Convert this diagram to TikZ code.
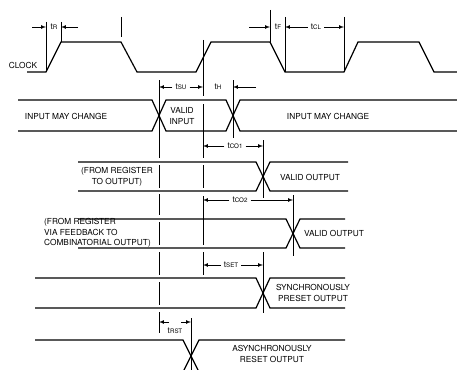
\documentclass[tikz,border=0pt]{standalone}
\usepackage{fontspec}
\setmainfont{TeX Gyre Heros}
\usetikzlibrary{arrows}
\usetikzlibrary{positioning}

\newcommand{\tsub}[1]{t{\fontsize{6.2}{7}\selectfont #1}}

\begin{document}
\begin{tikzpicture}[x=1pt,y=-1pt]
\tikzstyle{every node}=[font=\fontsize{8.3}{10.5}\selectfont,inner sep=1pt,align=center]
\tikzstyle{wave}=[line width=1.2pt]
\tikzstyle{tick}=[line width=1pt]
\tikzstyle{dim}=[-latex,line width=0.7pt]
\tikzstyle{lbl}=[inner sep=3pt]
\useasboundingbox (0,0) rectangle (457,369);

% clock
\draw[wave] (27,72) -- (46,72) -- (61,42) -- (121,42) -- (137,72) -- (196,72) -- (211,42)
  -- (270,42) -- (285,72) -- (344,72) -- (358,42) -- (419,42) -- (434,72) -- (457,72);
\node (clk) at (23,65) {CLOCK};

% input
\draw[wave] (18,100) -- (152,100) -- (166,131) -- (226,131) -- (240,100) -- (457,100);
\draw[wave] (18,131) -- (152,131) -- (166,100) -- (226,100) -- (240,131) -- (457,131);

% outputs
\foreach \s/\c/\e/\t/\b in {78/263/348/162/191, 78/293/345/219/248, 35/263/345/278/308}
  \draw[wave] (\s,\t) -- (\c-7,\t) -- (\c+7,\b) -- (\e,\b)
              (\s,\b) -- (\c-7,\b) -- (\c+7,\t) -- (\e,\t);
\draw[wave] (35,340) -- (183,340) -- (199,372) (345,340) -- (199,340) -- (183,372);

% reference lines
\coordinate (su) at (159,80);
\coordinate (ck) at (203,40);
\foreach \a/\b in {80/158, 165/188, 194/215, 222/245, 252/275, 282/305}
  \draw[tick] (su |- 0,\a) -- (su |- 0,\b);
\foreach \a/\b in {40/96, 104/158, 165/188, 196/245, 252/275}
  \draw[tick] (ck |- 0,\a) -- (ck |- 0,\b);

% clock times
\coordinate (r0) at (46,22);
\coordinate (r1) at (61,22);
\coordinate (f0) at (270,10);
\coordinate (f1) at (285,17);
\coordinate (cl) at (344,17);
\draw[tick] (r0) -- (46,72) (r1) -- (61,42) (121,17) -- (121,37)
  (f0) -- (270,42) (f1) -- (285,72) (cl) -- (344,72);
\node (tr) at (54,27) {\tsub{R}};
\draw[dim] (32,27) -- (r0 |- tr);
\draw[dim] (78,27) -- (r1 |- tr);
\node (tf) at (278,27) {\tsub{F}};
\draw[dim] (249,27) -- (f0 |- tf);
\node[lbl] (tcl) at (316,27) {\tsub{CL}};
\draw[dim] (tcl.west) -- (f1 |- tcl);
\draw[dim] (tcl.east) -- (cl |- tcl);

% setup, hold
\coordinate (h) at (233,80);
\draw[tick] (h) -- (233,138);
\node[lbl] (tsu) at (181,87) {\tsub{SU}};
\draw[dim] (tsu.west) -- (su |- tsu);
\draw[dim] (tsu.east) -- (ck |- tsu);
\node (th) at (218,87) {\tsub{H}};
\draw[dim] (256,87) -- (h |- th);

% clock to output
\coordinate (co1) at (263,140);
\draw[tick] (co1) -- (263,198);
\node[lbl] (tco1) at (235,146) {\tsub{CO1}};
\draw[dim] (tco1.west) -- (ck |- tco1);
\draw[dim] (tco1.east) -- (co1 |- tco1);

\coordinate (co2) at (293,195);
\draw[tick] (co2) -- (293,256);
\node[lbl] (tco2) at (240,200) {\tsub{CO2}};
\draw[dim] (tco2.west) -- (ck |- tco2);
\draw[dim] (tco2.east) -- (co2 |- tco2);

\coordinate (st) at (263,252);
\draw[tick] (st) -- (263,313);
\node[lbl] (tset) at (231,265) {\tsub{SET}};
\draw[dim] (tset.west) -- (ck |- tset);
\draw[dim] (tset.east) -- (st |- tset);

% reset
\coordinate (rs0) at (159,312);
\coordinate (rs1) at (191,318);
\draw[tick] (rs0) -- (159,333) (rs1) -- (191,372);
\coordinate (ra) at (175,322);
\draw[dim] ([xshift=-6pt]ra) -- (ra -| rs0);
\draw[dim] ([xshift=6pt]ra) -- (ra -| rs1);
\node (trst) at (175,331) {\tsub{RST}};

% texts
\node (in1) at (66,116) {INPUT MAY CHANGE};
\node (vin) at (182,116) {VALID\\INPUT};
\node (in2) at (328,116) {INPUT MAY CHANGE};
\node (reg1) at (117,177) {(FROM REGISTER\\TO OUTPUT)};
\node (vo1) at (310,177) {VALID OUTPUT};
\node[align=left,anchor=west] (reg2) at (43,233) {(FROM REGISTER\\VIA FEEDBACK TO\\COMBINATORIAL OUTPUT)};
\node (vo2) at (334,233) {VALID OUTPUT};
\node (sp) at (313,293) {SYNCHRONOUSLY\\PRESET OUTPUT};
\node (ar) at (272,354) {ASYNCHRONOUSLY\\RESET OUTPUT};
\end{tikzpicture}
\end{document}
